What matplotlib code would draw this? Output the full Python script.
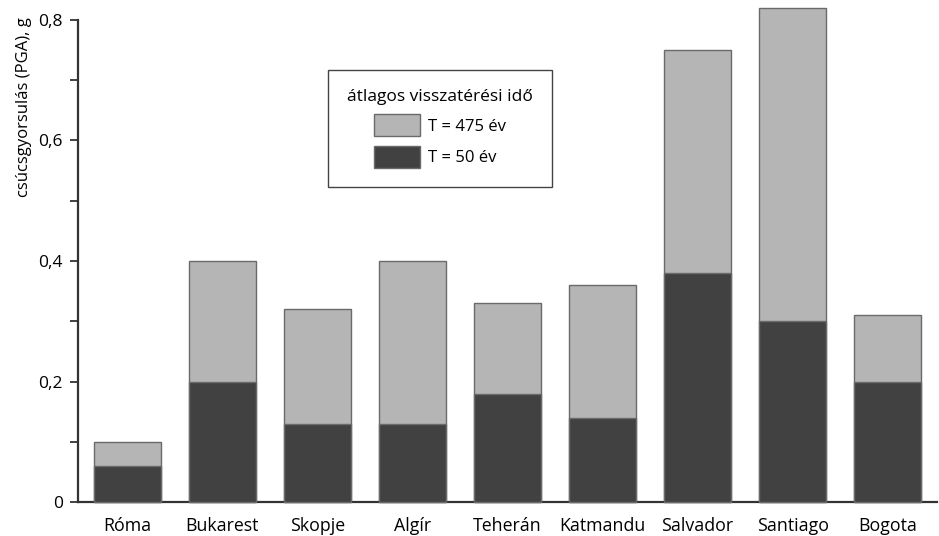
import matplotlib
matplotlib.use('Agg')
import matplotlib.pyplot as plt
from matplotlib.patches import Patch
from matplotlib.ticker import MultipleLocator, FuncFormatter

plt.rcParams['font.family'] = ['Open Sans', 'DejaVu Sans']

varosok = ['Róma', 'Bukarest', 'Skopje', 'Algír', 'Teherán', 'Katmandu', 'Salvador', 'Santiago', 'Bogota']
t475 = [0.10, 0.40, 0.32, 0.40, 0.33, 0.36, 0.75, 0.82, 0.31]
t50 = [0.06, 0.20, 0.13, 0.13, 0.18, 0.14, 0.38, 0.30, 0.20]

vilagos = '#b5b5b5'
sotet = '#414141'

fig = plt.figure(figsize=(9.39, 5.36), dpi=100)
ax = fig.add_axes([78 / 939, 1 - 502 / 536, (937 - 78) / 939, (502 - 20) / 536])

x = range(len(varosok))
ax.bar(x, t475, width=0.705, color=vilagos, edgecolor='#6a6a6a', linewidth=1, clip_on=False, zorder=2)
ax.bar(x, t50, width=0.705, color=sotet, edgecolor='#6a6a6a', linewidth=1, clip_on=False, zorder=3)

ax.set_xlim(-0.52, len(varosok) - 0.48)
ax.set_ylim(0, 0.8)
ax.set_xticks(list(x))
ax.set_xticklabels(varosok, fontsize=12.8)
ax.tick_params(axis='x', length=0, pad=11)
ax.yaxis.set_major_locator(MultipleLocator(0.2))
ax.yaxis.set_minor_locator(MultipleLocator(0.1))
ax.yaxis.set_major_formatter(FuncFormatter(lambda v, p: '0' if v == 0 else ('%.1f' % v).replace('.', ',')))
ax.tick_params(axis='y', which='both', length=6, width=1.3, color='#333333', labelsize=12.5, pad=5)
ax.set_ylabel('csúcsgyorsulás (PGA), g', fontsize=12)
ax.yaxis.set_label_coords(-0.053, 0.82)

for s in ['top', 'right']:
    ax.spines[s].set_visible(False)
for s in ['left', 'bottom']:
    ax.spines[s].set_linewidth(1.6)
    ax.spines[s].set_color('#333333')

elemek = [Patch(facecolor=vilagos, edgecolor='#6a6a6a', label='T = 475 év'),
          Patch(facecolor=sotet, edgecolor='#6a6a6a', label='T = 50 év')]
leg = ax.legend(handles=elemek, title='átlagos visszatérési idő', loc='upper left',
                bbox_to_anchor=(0.291, 0.896), borderaxespad=0, fontsize=12, title_fontsize=12.5,
                fancybox=False, framealpha=1, edgecolor='#444444',
                handlelength=2.75, handleheight=1.65, handletextpad=0.5,
                borderpad=1.15, labelspacing=0.55)
leg.get_frame().set_linewidth(1)

fig.savefig('out.png', dpi=100)
